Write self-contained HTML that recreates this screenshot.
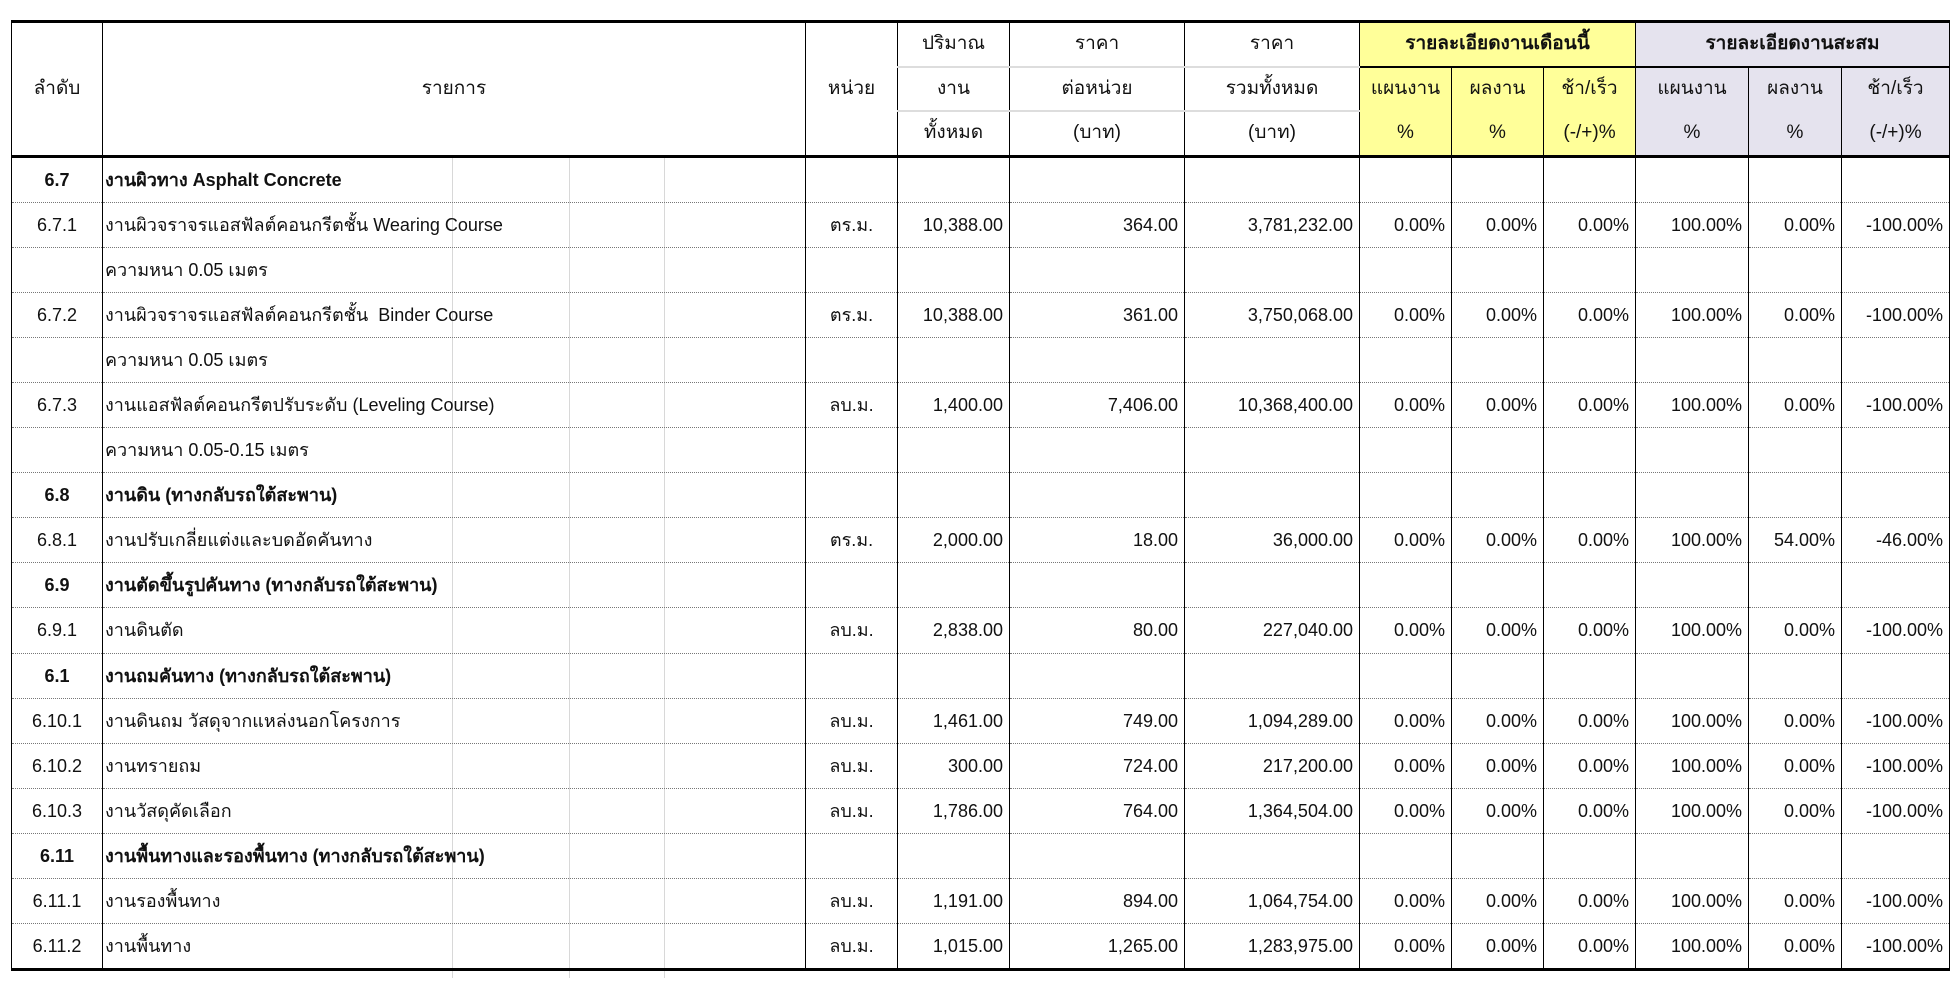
<!DOCTYPE html>
<html><head><meta charset="utf-8">
<style>
html,body{margin:0;padding:0;background:#fff;}
body{width:1958px;height:983px;position:relative;overflow:hidden;font-family:"Liberation Sans","Noto Sans CJK SC",sans-serif;color:#111;}
.fl{position:absolute;top:156px;height:822px;width:1px;background:#d8d8d8;}
table{position:absolute;left:11px;top:20px;border-collapse:collapse;table-layout:fixed;font-size:18px;}
td{padding:0 6px;white-space:nowrap;overflow:hidden;border-left:1.5px solid #000;border-right:1.5px solid #000;line-height:20px;}
thead td{height:42.5px;text-align:center;font-size:19px;}
tbody td{height:44.1px;border-bottom:1px dotted #777;}
tbody tr:last-child td{border-bottom:3px solid #000;}
thead tr:first-child td{border-top:3px solid #000;}
thead tr:last-child td, thead td.hb{border-bottom:3px solid #000;}
.g1{border-bottom:2px solid #ddd;}
.y{background:#ffff99;}
.p{background:#e5e3ee;}
.yb{border-bottom:2px solid #000;}
.c{text-align:center;}
.r{text-align:right;}
.b{font-weight:bold;}
.d{padding-left:2px;}
</style></head><body>
<div class="fl" style="left:452px"></div>
<div class="fl" style="left:569px"></div>
<div class="fl" style="left:664px"></div>
<table>
<colgroup>
<col style="width:91px"><col style="width:703px"><col style="width:92px"><col style="width:112px"><col style="width:175px"><col style="width:175px"><col style="width:92px"><col style="width:92px"><col style="width:92px"><col style="width:113px"><col style="width:93px"><col style="width:108px">
</colgroup>
<thead>
<tr><td rowspan="3" class="hb">ลำดับ</td><td rowspan="3" class="hb">รายการ</td><td rowspan="3" class="hb">หน่วย</td><td class="g1">ปริมาณ</td><td class="g1">ราคา</td><td class="g1">ราคา</td><td colspan="3" class="y b yb">รายละเอียดงานเดือนนี้</td><td colspan="3" class="p b yb">รายละเอียดงานสะสม</td></tr>
<tr><td class="g1">งาน</td><td class="g1">ต่อหน่วย</td><td class="g1">รวมทั้งหมด</td><td class="y">แผนงาน</td><td class="y">ผลงาน</td><td class="y">ช้า/เร็ว</td><td class="p">แผนงาน</td><td class="p">ผลงาน</td><td class="p">ช้า/เร็ว</td></tr>
<tr><td>ทั้งหมด</td><td>(บาท)</td><td>(บาท)</td><td class="y">%</td><td class="y">%</td><td class="y">(-/+)%</td><td class="p">%</td><td class="p">%</td><td class="p">(-/+)%</td></tr>
</thead>
<tbody>
<tr><td class="c b">6.7</td><td class="d b">งานผิวทาง Asphalt Concrete</td><td></td><td></td><td></td><td></td><td></td><td></td><td></td><td></td><td></td><td></td></tr>
<tr><td class="c">6.7.1</td><td class="d">งานผิวจราจรแอสฟัลต์คอนกรีตชั้น Wearing Course</td><td class="c">ตร.ม.</td><td class="r">10,388.00</td><td class="r">364.00</td><td class="r">3,781,232.00</td><td class="r">0.00%</td><td class="r">0.00%</td><td class="r">0.00%</td><td class="r">100.00%</td><td class="r">0.00%</td><td class="r">-100.00%</td></tr>
<tr><td></td><td class="d">ความหนา 0.05 เมตร</td><td></td><td></td><td></td><td></td><td></td><td></td><td></td><td></td><td></td><td></td></tr>
<tr><td class="c">6.7.2</td><td class="d">งานผิวจราจรแอสฟัลต์คอนกรีตชั้น&nbsp; Binder Course</td><td class="c">ตร.ม.</td><td class="r">10,388.00</td><td class="r">361.00</td><td class="r">3,750,068.00</td><td class="r">0.00%</td><td class="r">0.00%</td><td class="r">0.00%</td><td class="r">100.00%</td><td class="r">0.00%</td><td class="r">-100.00%</td></tr>
<tr><td></td><td class="d">ความหนา 0.05 เมตร</td><td></td><td></td><td></td><td></td><td></td><td></td><td></td><td></td><td></td><td></td></tr>
<tr><td class="c">6.7.3</td><td class="d">งานแอสฟัลต์คอนกรีตปรับระดับ (Leveling Course)</td><td class="c">ลบ.ม.</td><td class="r">1,400.00</td><td class="r">7,406.00</td><td class="r">10,368,400.00</td><td class="r">0.00%</td><td class="r">0.00%</td><td class="r">0.00%</td><td class="r">100.00%</td><td class="r">0.00%</td><td class="r">-100.00%</td></tr>
<tr><td></td><td class="d">ความหนา 0.05-0.15 เมตร</td><td></td><td></td><td></td><td></td><td></td><td></td><td></td><td></td><td></td><td></td></tr>
<tr><td class="c b">6.8</td><td class="d b">งานดิน (ทางกลับรถใต้สะพาน)</td><td></td><td></td><td></td><td></td><td></td><td></td><td></td><td></td><td></td><td></td></tr>
<tr><td class="c">6.8.1</td><td class="d">งานปรับเกลี่ยแต่งและบดอัดคันทาง</td><td class="c">ตร.ม.</td><td class="r">2,000.00</td><td class="r">18.00</td><td class="r">36,000.00</td><td class="r">0.00%</td><td class="r">0.00%</td><td class="r">0.00%</td><td class="r">100.00%</td><td class="r">54.00%</td><td class="r">-46.00%</td></tr>
<tr><td class="c b">6.9</td><td class="d b">งานตัดขึ้นรูปคันทาง (ทางกลับรถใต้สะพาน)</td><td></td><td></td><td></td><td></td><td></td><td></td><td></td><td></td><td></td><td></td></tr>
<tr><td class="c">6.9.1</td><td class="d">งานดินตัด</td><td class="c">ลบ.ม.</td><td class="r">2,838.00</td><td class="r">80.00</td><td class="r">227,040.00</td><td class="r">0.00%</td><td class="r">0.00%</td><td class="r">0.00%</td><td class="r">100.00%</td><td class="r">0.00%</td><td class="r">-100.00%</td></tr>
<tr><td class="c b">6.1</td><td class="d b">งานถมคันทาง (ทางกลับรถใต้สะพาน)</td><td></td><td></td><td></td><td></td><td></td><td></td><td></td><td></td><td></td><td></td></tr>
<tr><td class="c">6.10.1</td><td class="d">งานดินถม วัสดุจากแหล่งนอกโครงการ</td><td class="c">ลบ.ม.</td><td class="r">1,461.00</td><td class="r">749.00</td><td class="r">1,094,289.00</td><td class="r">0.00%</td><td class="r">0.00%</td><td class="r">0.00%</td><td class="r">100.00%</td><td class="r">0.00%</td><td class="r">-100.00%</td></tr>
<tr><td class="c">6.10.2</td><td class="d">งานทรายถม</td><td class="c">ลบ.ม.</td><td class="r">300.00</td><td class="r">724.00</td><td class="r">217,200.00</td><td class="r">0.00%</td><td class="r">0.00%</td><td class="r">0.00%</td><td class="r">100.00%</td><td class="r">0.00%</td><td class="r">-100.00%</td></tr>
<tr><td class="c">6.10.3</td><td class="d">งานวัสดุคัดเลือก</td><td class="c">ลบ.ม.</td><td class="r">1,786.00</td><td class="r">764.00</td><td class="r">1,364,504.00</td><td class="r">0.00%</td><td class="r">0.00%</td><td class="r">0.00%</td><td class="r">100.00%</td><td class="r">0.00%</td><td class="r">-100.00%</td></tr>
<tr><td class="c b">6.11</td><td class="d b">งานพื้นทางและรองพื้นทาง (ทางกลับรถใต้สะพาน)</td><td></td><td></td><td></td><td></td><td></td><td></td><td></td><td></td><td></td><td></td></tr>
<tr><td class="c">6.11.1</td><td class="d">งานรองพื้นทาง</td><td class="c">ลบ.ม.</td><td class="r">1,191.00</td><td class="r">894.00</td><td class="r">1,064,754.00</td><td class="r">0.00%</td><td class="r">0.00%</td><td class="r">0.00%</td><td class="r">100.00%</td><td class="r">0.00%</td><td class="r">-100.00%</td></tr>
<tr><td class="c">6.11.2</td><td class="d">งานพื้นทาง</td><td class="c">ลบ.ม.</td><td class="r">1,015.00</td><td class="r">1,265.00</td><td class="r">1,283,975.00</td><td class="r">0.00%</td><td class="r">0.00%</td><td class="r">0.00%</td><td class="r">100.00%</td><td class="r">0.00%</td><td class="r">-100.00%</td></tr>
</tbody>
</table>
</body></html>
